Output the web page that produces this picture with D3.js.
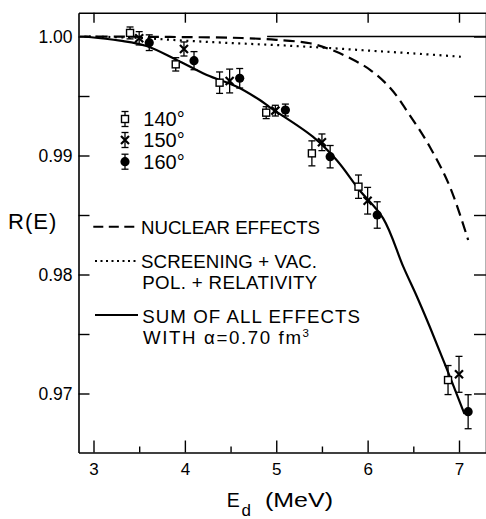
<!DOCTYPE html>
<html><head><meta charset="utf-8">
<script src="https://cdn.jsdelivr.net/npm/d3@7"></script>
<style>
body{margin:0;background:#fff}
svg{display:block}
text{font-family:"Liberation Sans",Arial,Helvetica,sans-serif;fill:#000}
</style>
</head><body>
<svg id="c" width="486" height="519"></svg>
<script>
// ---- data ----
const e140 = [3.40, 3.90, 4.38, 4.89, 5.39, 5.90, 6.88];
const r140 = [1.0003, 0.99766, 0.99612, 0.99360, 0.99018, 0.98738, 0.97113];
const err140 = [0.0005, 0.00056, 0.0009, 0.0005, 0.00105, 0.00098, 0.00122];

const e150 = [3.50, 3.99, 4.49, 4.99, 5.50, 6.00, 7.00];
const r150 = [0.99985, 0.99895, 0.99626, 0.99377, 0.99111, 0.98620, 0.97161];
const err150 = [0.00056, 0.00059, 0.0010, 0.00045, 0.0007, 0.00112, 0.00151];

const e160 = [3.61, 4.10, 4.60, 5.10, 5.59, 6.105, 7.10];
const r160 = [0.99948, 0.99797, 0.99649, 0.99382, 0.98990, 0.98500, 0.96847];
const err160 = [0.00066, 0.00076, 0.00082, 0.0005, 0.00094, 0.00111, 0.00143];

const nuclearE = [2.85, 3.5, 4.0, 4.5, 4.71, 5.0, 5.37, 5.59, 5.81, 6.03, 6.25, 6.46, 6.68, 6.90, 7.10];
const nuclearR = [1.0000, 0.99998, 0.99995, 0.99990, 0.99985, 0.99972, 0.99943, 0.99892, 0.99817, 0.99718, 0.99565, 0.99340, 0.99074, 0.98738, 0.98290];

const screenE = [2.95, 3.5, 4.0, 4.5, 5.0, 5.5, 6.0, 6.5, 7.02];
const screenR = [1.0, 0.99988, 0.99965, 0.99945, 0.99928, 0.99907, 0.99882, 0.99858, 0.99830];

const sumE = [2.9, 3.29, 3.58, 3.91, 4.24, 4.57, 4.82, 4.93, 5.40, 5.66, 5.91, 6.17, 6.39, 6.54, 6.68, 6.85, 7.04, 7.06];
const sumR = [1.0, 0.99965, 0.9992, 0.99803, 0.99676, 0.99578, 0.99466, 0.99405, 0.99158, 0.98962, 0.98710, 0.98472, 0.98066, 0.97813, 0.97561, 0.97239, 0.96867, 0.96828];

const unityE = [4.9, 7.3];
const unityR = [1.0, 1.0];

const xTicks = [3, 4, 5, 6, 7];
const xTickLabels = ["3", "4", "5", "6", "7"];
const xMinor = [3.5, 4.5, 5.5, 6.5];
const yTicks = [0.97, 0.98, 0.99, 1.00];
const yTickLabels = ["0.97", "0.98", "0.99", "1.00"];
const yMinor = [0.975, 0.985, 0.995];

const seriesNames = ["140°", "150°", "160°"];
const curveNames = [["NUCLEAR EFFECTS"], ["SCREENING + VAC.", "POL. + RELATIVITY"], ["SUM OF ALL EFFECTS", "WITH α=0.70 fm"]];

// ---- drawing ----
const svg = d3.select("#c");
const x = d3.scaleLinear().domain([3, 7]).range([93.5, 459]);
const y = d3.scaleLinear().domain([0.97, 1.0]).range([393.5, 36.5]);
const L = 78.5, R = 486, T = 12.7, B = 452.5;
const xf = x.copy().domain([x.invert(L), x.invert(R)]).range([L, R]);
const yf = y.copy().domain([y.invert(B), y.invert(T)]).range([B, T]);

function styleAxis(g, fs) {
  g.selectAll("path.domain").attr("stroke", "#000").attr("stroke-width", 1.6);
  g.selectAll(".tick line").attr("stroke", "#000").attr("stroke-width", 1.4);
  g.selectAll(".tick text").attr("font-size", fs).attr("fill", "#000")
    .attr("font-family", '"Liberation Sans",Arial,sans-serif');
}

// bottom
const gb = svg.append("g").attr("transform", `translate(0,${B})`)
  .call(d3.axisBottom(xf).tickValues(xTicks).tickSizeInner(-12).tickSizeOuter(0).tickPadding(10)
    .tickFormat((d, i) => xTickLabels[i]));
styleAxis(gb, 17);
const gbm = svg.append("g").attr("transform", `translate(0,${B})`)
  .call(d3.axisBottom(xf).tickValues(xMinor).tickSizeInner(-6).tickSizeOuter(0).tickFormat(""));
gbm.select("path.domain").remove(); styleAxis(gbm, 0);
// top
const gt = svg.append("g").attr("transform", `translate(0,${T})`)
  .call(d3.axisTop(xf).tickValues(xTicks).tickSizeInner(-10).tickSizeOuter(0).tickFormat(""));
styleAxis(gt, 0);
// left
const gl = svg.append("g").attr("transform", `translate(${L},0)`)
  .call(d3.axisLeft(yf).tickValues(yTicks).tickSizeInner(-11).tickSizeOuter(0).tickPadding(6)
    .tickFormat((d, i) => yTickLabels[i]));
styleAxis(gl, 17.5);
const glm = svg.append("g").attr("transform", `translate(${L},0)`)
  .call(d3.axisLeft(yf).tickValues(yMinor).tickSizeInner(-11).tickSizeOuter(0).tickFormat(""));
glm.select("path.domain").remove(); styleAxis(glm, 0);
// right
const gr = svg.append("g").attr("transform", `translate(${R},0)`)
  .call(d3.axisRight(yf).tickValues(yTicks.concat(yMinor)).tickSizeInner(-12).tickSizeOuter(0).tickFormat(""));
styleAxis(gr, 0);

// axis titles
svg.append("text").attr("x", 8).attr("y", 229).attr("font-size", 22).attr("letter-spacing", 1).text("R(E)");
const xt = svg.append("g");
xt.append("text").attr("x", 226.7).attr("y", 507).attr("font-size", 19.5).text("E");
xt.append("text").attr("x", 241.5).attr("y", 515.5).attr("font-size", 17).text("d");
xt.append("text").attr("x", 265).attr("y", 507).attr("font-size", 20)
  .attr("textLength", 68).attr("lengthAdjust", "spacingAndGlyphs").text("(MeV)");

// curves
const zip = (a, b) => a.map((v, i) => [v, b[i]]);
const line = d3.line().x(d => x(d[0])).y(d => y(d[1])).curve(d3.curveCatmullRom);
const plot = svg.append("g");
plot.append("path").datum(zip(unityE, unityR)).attr("d", d3.line().x(d => x(d[0])).y(d => y(d[1])))
  .attr("fill", "none").attr("stroke", "#000").attr("stroke-width", 1.3);
plot.append("path").datum(zip(nuclearE, nuclearR)).attr("d", line)
  .attr("fill", "none").attr("stroke", "#000").attr("stroke-width", 2.2).attr("stroke-dasharray", "11,6");
plot.append("path").datum(zip(screenE, screenR)).attr("d", line)
  .attr("fill", "none").attr("stroke", "#000").attr("stroke-width", 2.2).attr("stroke-dasharray", "2,4.5");
plot.append("path").datum(zip(sumE, sumR)).attr("d", line)
  .attr("fill", "none").attr("stroke", "#000").attr("stroke-width", 2.2);

// markers
function errBar(g, cx, cy, top, bot) {
  g.append("line").attr("x1", cx).attr("x2", cx).attr("y1", top).attr("y2", bot).attr("stroke", "#000").attr("stroke-width", 1.3);
  [top, bot].forEach(v => g.append("line").attr("x1", cx - 3.5).attr("x2", cx + 3.5).attr("y1", v).attr("y2", v)
    .attr("stroke", "#000").attr("stroke-width", 1.3));
}
function marker(g, kind, cx, cy) {
  if (kind === 0) {
    g.append("rect").attr("x", cx - 3.5).attr("y", cy - 3.5).attr("width", 7).attr("height", 7)
      .attr("fill", "#fff").attr("stroke", "#000").attr("stroke-width", 1.4);
  } else if (kind === 1) {
    g.append("path").attr("d", `M${cx - 4},${cy - 4}L${cx + 4},${cy + 4}M${cx - 4},${cy + 4}L${cx + 4},${cy - 4}`)
      .attr("stroke", "#000").attr("stroke-width", 2.2);
  } else {
    g.append("circle").attr("cx", cx).attr("cy", cy).attr("r", 4.6).attr("fill", "#000");
  }
}
const series = [[e140, r140, err140], [e150, r150, err150], [e160, r160, err160]];
series.forEach((s, k) => {
  const g = plot.append("g");
  s[0].forEach((e, i) => {
    const cx = x(e), cy = y(s[1][i]);
    errBar(g, cx, cy, y(s[1][i] + s[2][i]), y(s[1][i] - s[2][i]));
    marker(g, k, cx, cy);
  });
});

// marker legend
const leg = svg.append("g");
const legY = [119, 140, 161.7];
seriesNames.forEach((n, k) => {
  const cy = legY[k];
  errBar(leg, 125, cy, cy - 7.5, cy + 7.5);
  marker(leg, k, 125, cy);
  leg.append("text").attr("x", 143.3).attr("y", cy + 7.2).attr("font-size", 20).text(n);
});

// line legend
const ll = svg.append("g");
ll.append("line").attr("x1", 93.3).attr("x2", 135).attr("y1", 226.7).attr("y2", 226.7)
  .attr("stroke", "#000").attr("stroke-width", 2).attr("stroke-dasharray", "10,5.5");
ll.append("line").attr("x1", 95).attr("x2", 138).attr("y1", 261).attr("y2", 261)
  .attr("stroke", "#000").attr("stroke-width", 2).attr("stroke-dasharray", "2,3.5");
ll.append("line").attr("x1", 95).attr("x2", 138).attr("y1", 315).attr("y2", 315)
  .attr("stroke", "#000").attr("stroke-width", 2);
const fsL = 18.7;
ll.append("text").attr("x", 141).attr("y", 234).attr("font-size", fsL).attr("textLength", 179).attr("lengthAdjust", "spacing").text(curveNames[0][0]);
ll.append("text").attr("x", 141).attr("y", 267.7).attr("font-size", fsL).attr("textLength", 176).attr("lengthAdjust", "spacing").text(curveNames[1][0]);
ll.append("text").attr("x", 142.3).attr("y", 289.3).attr("font-size", fsL).attr("textLength", 175).attr("lengthAdjust", "spacing").text(curveNames[1][1]);
ll.append("text").attr("x", 142.3).attr("y", 322.5).attr("font-size", fsL).attr("textLength", 217.7).attr("lengthAdjust", "spacing").text(curveNames[2][0]);
ll.append("text").attr("x", 143).attr("y", 344).attr("font-size", fsL).attr("textLength", 158).attr("lengthAdjust", "spacing").text(curveNames[2][1]);
ll.append("text").attr("x", 302.5).attr("y", 337).attr("font-size", 11.5).text("3");
</script>
</body></html>
